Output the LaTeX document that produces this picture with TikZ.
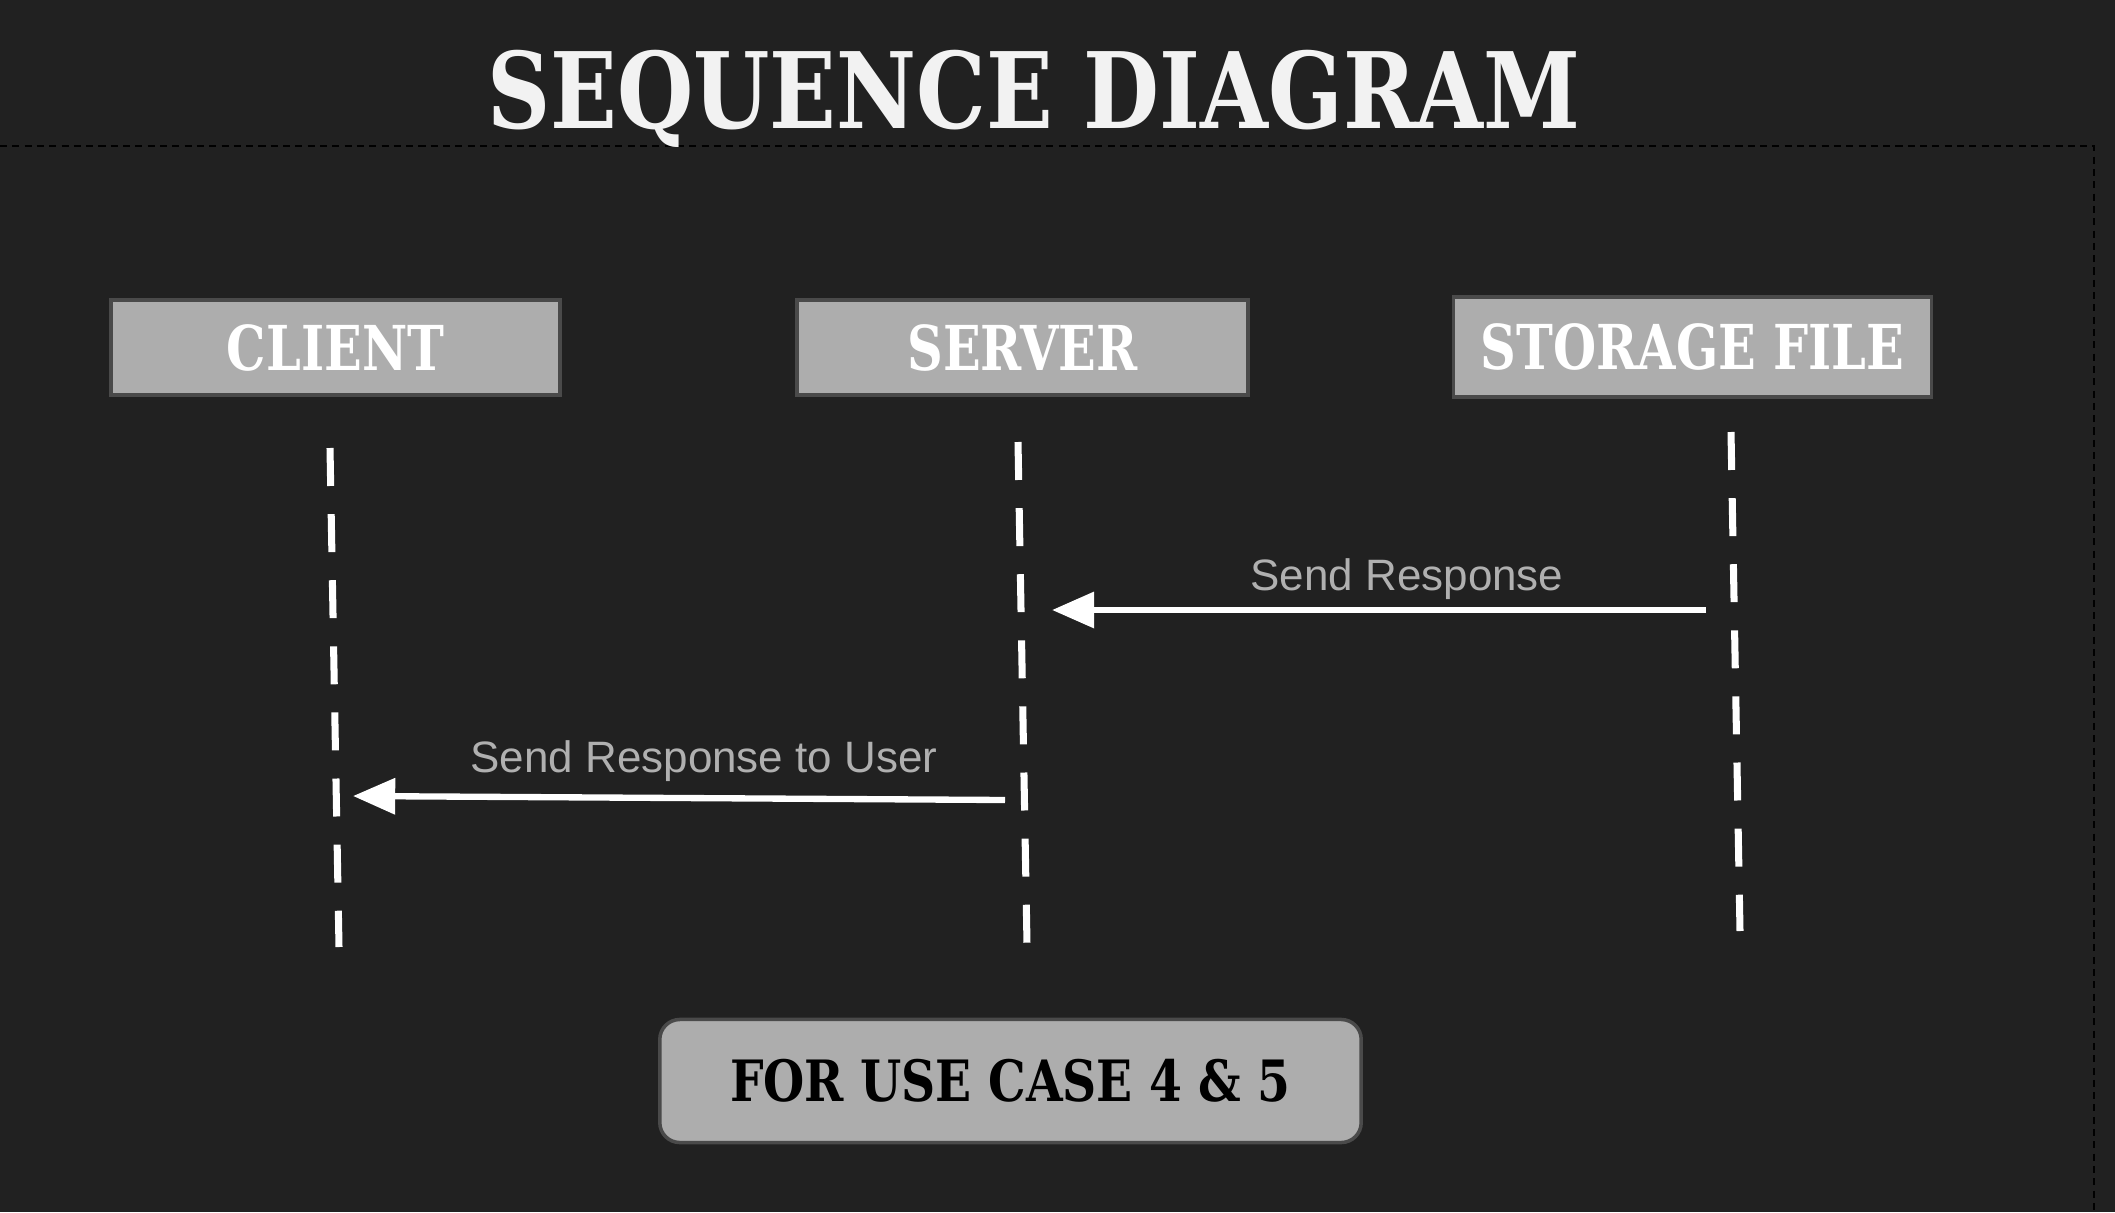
\documentclass[tikz,border=0pt]{standalone}
\usepackage{fontspec}
\usetikzlibrary{arrows.meta}
\setmainfont{DejaVu Serif}
\setsansfont{Liberation Sans}
\newfontfamily\headfont[FakeStretch=0.83]{DejaVu Serif}
\newfontfamily\actorfont[FakeStretch=0.8]{DejaVu Serif}
\definecolor{bgdark}{HTML}{212121}
\definecolor{boxgray}{HTML}{ADADAD}
\definecolor{boxline}{HTML}{4A4A4A}
\definecolor{msggray}{HTML}{B0B0B0}
\tikzset{
  actor/.style={draw=boxline, line width=1pt, fill=boxgray, text=white, inner sep=0pt,
    font=\actorfont\bfseries\fontsize{17.6}{20}\selectfont},
  lifeline/.style={white, line width=2pt, dash pattern=on 10.8pt off 8pt},
  msg/.style={white, line width=1.8pt, -{Triangle[length=12pt,width=10pt]}},
  msglabel/.style={text=msggray, font=\sffamily\fontsize{12.5}{15}\selectfont}
}
\begin{document}
\begin{tikzpicture}[x=0.01cm,y=-0.01cm]
\fill[bgdark] (0,0) rectangle (2115,1212);
\useasboundingbox (0,0) rectangle (2115,1212);
% frame
\draw[black, line width=0.6pt, dash pattern=on 2pt off 1.5pt] (0,146) -- (2094,146) -- (2094,1212);
% title
\node[anchor=base, text=white!95!black, font=\headfont\bfseries\fontsize{30}{36}\selectfont] (title) at (1034,128) {SEQUENCE DIAGRAM};
% actors
\node[actor, minimum width=4.49cm, minimum height=0.95cm] (client) at (335.5,347.5) {CLIENT};
\node[actor, minimum width=4.51cm, minimum height=0.95cm] (server) at (1022.5,347.5) {SERVER};
\node[actor, minimum width=4.78cm, minimum height=1cm] (storage) at (1692.5,347) {STORAGE FILE};
% lifelines
\coordinate (clTop) at (330,448);
\coordinate (clBot) at (339,947);
\coordinate (svTop) at (1018,442);
\coordinate (svBot) at (1027,944);
\coordinate (stTop) at (1731,432);
\coordinate (stBot) at (1740,931);
\draw[lifeline] (clTop) -- (clBot);
\draw[lifeline] (svTop) -- (svBot);
\draw[lifeline] (stTop) -- (stBot);
% messages
\coordinate (stOut) at (1706,610);
\coordinate (svIn) at (1052,610);
\coordinate (svOut) at (1005,800);
\coordinate (clIn) at (353,796);
\draw[msg] (stOut) -- (svIn);
\node[msglabel, anchor=base] (resp) at (1407,590) {Send Response};
\draw[msg] (svOut) -- (clIn);
\node[msglabel, anchor=base] (respUser) at (704,772) {Send Response to User};
% use case
\node[actor, rounded corners=0.2cm, text=black, minimum width=7.01cm, minimum height=1.23cm,
  font=\headfont\bfseries\fontsize{16.2}{19}\selectfont] (usecase) at (1010.5,1081) {FOR USE CASE 4 \& 5};
\end{tikzpicture}
\end{document}
